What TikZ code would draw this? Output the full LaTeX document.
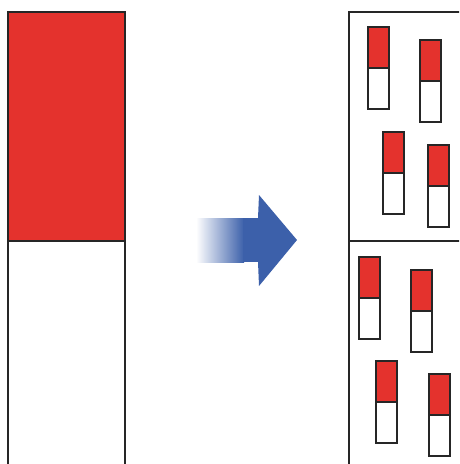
\documentclass[tikz,border=0pt]{standalone}
\usetikzlibrary{shadings}
\definecolor{barred}{RGB}{228,50,45}
\definecolor{arrowblue}{RGB}{60,96,170}
\begin{document}
\begin{tikzpicture}[x=1pt,y=-1pt,
  outline/.style={draw=black!85,line width=2pt},
  redpart/.style={outline,fill=barred},
  whitepart/.style={outline,fill=white}]
\useasboundingbox (0,0) rectangle (459,464);
\clip (0,0) rectangle (459,464);
% big bar
\draw[whitepart] (8,241) rectangle (125,470);
\draw[redpart] (8,12) rectangle (125,241);
% right panel
\draw[outline] (349,12) rectangle (470,470);
\draw[outline] (349,241) -- (470,241);
% small bars
\foreach \x/\y in {367.5/27, 420/40, 383/132, 428/145, 358.5/256.5, 411/269.5, 376/361, 429/373.5}{
  \draw[whitepart] (\x,\y+41) rectangle (\x+21,\y+82);
  \draw[redpart] (\x,\y) rectangle (\x+21,\y+41);
}
% arrow
\fill[arrowblue] (258,218) -- (259,195) -- (297,240) -- (259,286) -- (258,262) -- cycle;
\shade[left color=white, right color=arrowblue, shading=axis] (196,218) rectangle (244,262);
\fill[arrowblue] (243,218) rectangle (260,262);
\end{tikzpicture}
\end{document}
